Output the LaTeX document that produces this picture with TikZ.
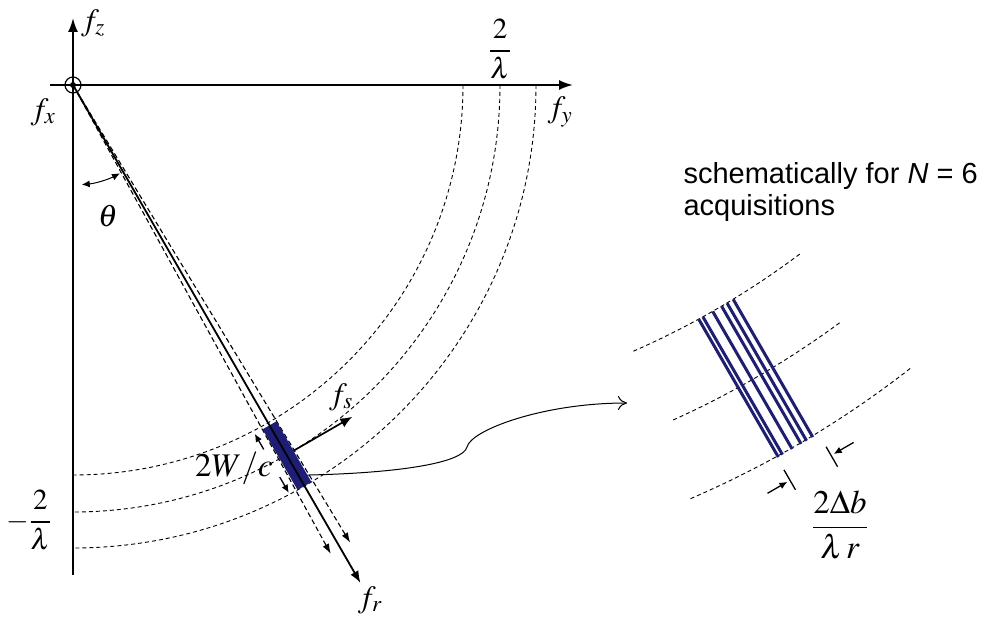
\documentclass[tikz,border=0pt]{standalone}
\usepackage{mathptmx}
\usepackage{fontspec}
\setsansfont{Liberation Sans}
\usetikzlibrary{arrows.meta, positioning}
\definecolor{navy}{RGB}{30,30,120}

\begin{document}
\begin{tikzpicture}[x=1pt, y=1pt, font=\fontsize{31}{34}\selectfont,
    axisline/.style={line width=1.9pt, -{Latex[length=14pt, width=10pt]}},
    arcline/.style={line width=0.9pt, dash pattern=on 4pt off 3pt},
    guide/.style={line width=1.1pt, dash pattern=on 5pt off 3pt, -{Latex[length=10pt, width=7pt]}},
    dimarrow/.style={line width=1.3pt, -{Latex[length=8pt, width=7pt]}},
    small/.style={font=\fontsize{29}{32}\selectfont},
    note/.style={font=\sffamily\fontsize{29}{33}\selectfont, anchor=base west}]
    \useasboundingbox (-73,85) rectangle (913,-536);

    \coordinate (O) at (0,0);
    \foreach \r in {390,427,463}
        \draw[arcline] (\r,0) arc[start angle=0, end angle=-90, radius=\r];
    \draw[axisline] (0,-490) -- (0,67) coordinate (ztip);
    \draw[axisline] (-23,0) -- (500,0) coordinate (ytip);
    \draw[line width=1.2pt] (O) circle (8);
    \fill (O) circle (3);

    \draw[guide] (O) -- (-61.2:535) coordinate (g1);
    \draw[guide] (O) -- (-58.8:535) coordinate (g2);
    \draw[dimarrow, {Latex[length=8pt, width=7pt]}-{Latex[length=8pt, width=7pt]}, line width=1pt]
        (-85:100) arc[start angle=-85, end angle=-62, radius=100];

    \begin{scope}[rotate=-60]
        \fill[navy] (393,-8) rectangle (463,8);
        \draw[line width=1.7pt, -{Latex[length=12pt, width=10pt]}] (427,8) -- (427,76) coordinate (fstip);
        \draw[dimarrow] (411,-17) -- (393,-17);
        \draw[dimarrow] (443,-17) -- (461,-17);
        \coordinate (bandout) at (455,8);
    \end{scope}
    \draw[line width=1.8pt, -{Latex[length=12pt, width=9pt]}] (O) -- (-60:575) coordinate (frtip);

    \node (fz) at (20,62) {$f_z$};
    \node (fx) at (-30,-27) {$f_x$};
    \node (fy) at (487,-27) {$f_y$};
    \node[small] (ytick) at (427,36) {$\displaystyle\frac{2}{\lambda}$};
    \node[small] (ztick) at (-44,-435) {$\displaystyle-\frac{2}{\lambda}$};
    \node (theta) at (35,-131) {$\theta$};
    \node (fs) at (268,-312) {$f_s$};
    \node (fr) at (297,-515) {$f_r$};
    \node[font=\fontsize{33}{36}\selectfont] (width) at (161,-383) {$2W/c$};

    \coordinate (insetin) at (554,-318);
    \draw[line width=1pt, -{To[length=9pt, width=14pt]}] (bandout)
        .. controls +(91,2) and +(-4,-16) .. (394,-362)
        .. controls +(4,17) and +(-84,0) .. (insetin);

    \begin{scope}[shift={(223.2,502)}, rotate=-60]
        \draw[arcline] (-6.3:839) arc[start angle=-6.3, end angle=7.05, radius=839];
        \draw[arcline] (-5.75:918) arc[start angle=-5.75, end angle=6.44, radius=918];
        \draw[arcline] (-6.7:997) arc[start angle=-6.7, end angle=8.1, radius=997];
        \foreach \d in {-19.5,-14.7,-3.5,6.8,13.1,20.3}
            \draw[navy, line width=3pt] (839,\d) -- (998,\d);
        \draw[line width=1.3pt] (1012,-21) -- (1035,-21);
        \draw[line width=1.3pt] (1013,27) -- (1036,27);
        \draw[dimarrow] (1024,-47) -- (1024,-24);
        \draw[dimarrow] (1023,53) -- (1023,30);
    \end{scope}
    \node[font=\fontsize{33}{36}\selectfont] (spread) at (767,-440) {$\displaystyle\frac{2\Delta b}{\lambda\, r}$};

    \node[note] (schem) at (607,-99) {schematically for \textit{N} = 6};
    \node[note] (acq) at (607,-130) {acquisitions};
\end{tikzpicture}
\end{document}
